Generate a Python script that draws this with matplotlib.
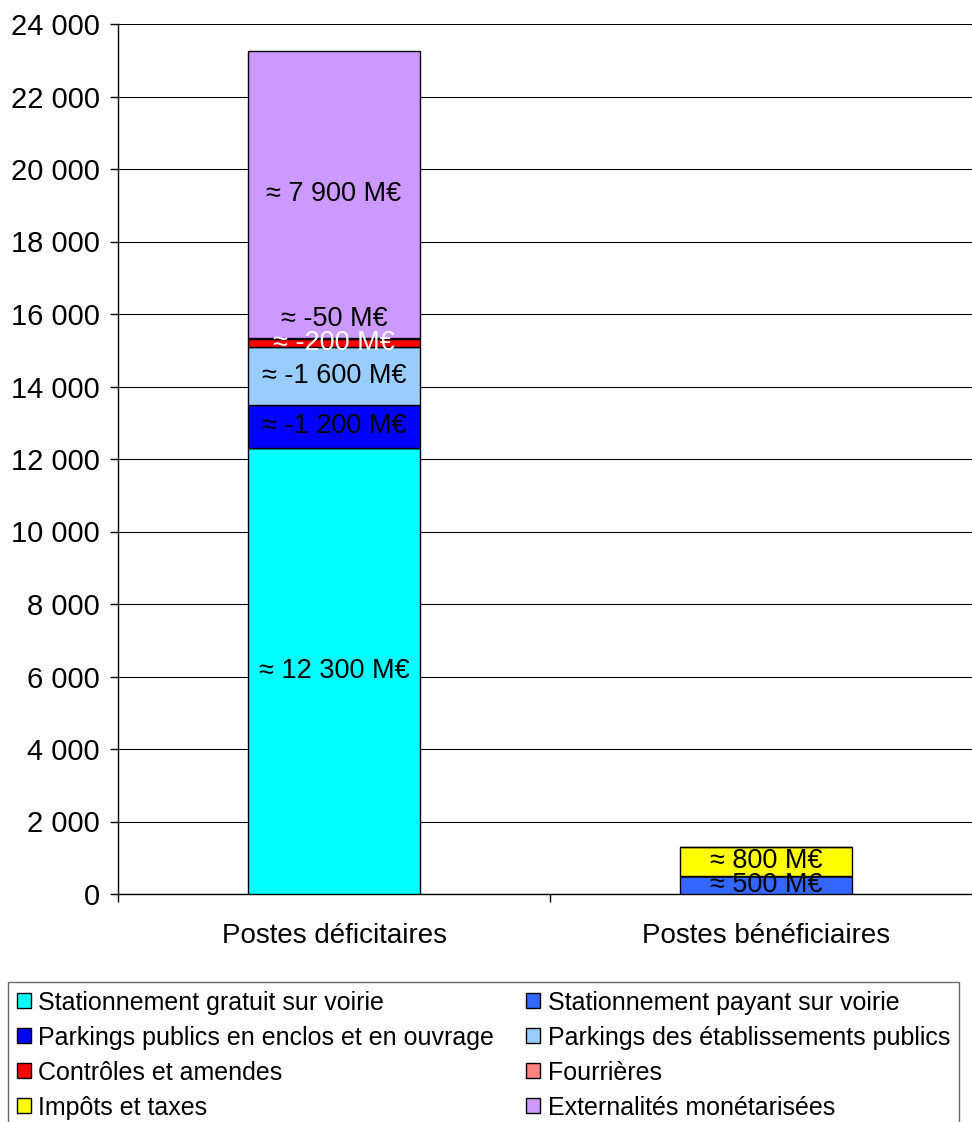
import matplotlib.pyplot as plt
import numpy as np
from matplotlib.patches import Patch
from matplotlib.ticker import FuncFormatter

plt.rcParams['font.family'] = ['Liberation Sans', 'DejaVu Sans']

categories = ['Postes déficitaires', 'Postes bénéficiaires']

# stacking order, bottom to top
series_names = ['Stationnement gratuit sur voirie', 'Stationnement payant sur voirie',
                'Parkings publics en enclos et en ouvrage', 'Parkings des établissements publics',
                'Contrôles et amendes', 'Fourrières', 'Impôts et taxes', 'Externalités monétarisées']
series_colors = ['#00FFFF', '#3366FF', '#0000FF', '#99CCFF', '#FF0000', '#FF8080', '#FFFF00', '#CC99FF']
series_values = [
    [12300, 0],
    [0, 500],
    [1200, 0],
    [1600, 0],
    [200, 0],
    [50, 0],
    [0, 800],
    [7900, 0],
]
series_labels = [
    ['≈ 12 300 M€', None],
    [None, '≈ 500 M€'],
    ['≈ -1 200 M€', None],
    ['≈ -1 600 M€', None],
    ['≈ -200 M€', None],
    ['≈ -50 M€', None],
    [None, '≈ 800 M€'],
    ['≈ 7 900 M€', None],
]
label_colors = ['black', 'black', 'black', 'black', 'white', 'black', 'black', 'black']
label_offsets = [0, 0, 0, 0, 0, 14, 0, 0]  # points, to keep tiny segments readable

fig = plt.figure(figsize=(9.72, 11.22), dpi=100)
ax = fig.add_axes([118 / 972, 1 - 894 / 1122, 864 / 972, 870 / 1122])

x = np.arange(len(categories))
bottom = np.zeros(len(categories))
for name, color, vals, labs, lc, off in zip(series_names, series_colors, series_values,
                                              series_labels, label_colors, label_offsets):
    vals = np.array(vals, dtype=float)
    ax.bar(x, vals, width=0.4, bottom=bottom, color=color, edgecolor='black', linewidth=1, zorder=3)
    for xi, v, b, lab in zip(x, vals, bottom, labs):
        if lab:
            ax.annotate(lab, (xi, b + v / 2), xytext=(0, off), textcoords='offset points',
                        ha='center', va='center', fontsize=19.5, color=lc, zorder=4)
    bottom += vals

ax.set_xlim(-0.5, 1.5)
ax.set_ylim(0, 24000)
ax.set_yticks(np.arange(0, 24001, 2000))
ax.yaxis.set_major_formatter(FuncFormatter(lambda v, p: f'{int(v):,}'.replace(',', ' ')))
ax.yaxis.grid(True, color='black', linewidth=0.8, zorder=0)
ax.tick_params(axis='y', labelsize=21, length=6, width=1, direction='out', pad=7)

ax.set_xticks([-0.5, 0.5, 1.5])
ax.set_xticklabels([])
ax.set_xticks(x, minor=True)
ax.set_xticklabels(categories, minor=True)
ax.tick_params(axis='x', which='major', length=6, width=1)
ax.tick_params(axis='x', which='minor', length=0, labelsize=20, pad=21)

for s in ['top', 'right']:
    ax.spines[s].set_visible(False)
ax.spines['left'].set_linewidth(1)
ax.spines['bottom'].set_linewidth(1)

handles = {n: Patch(facecolor=c, edgecolor='black', linewidth=1) for n, c in zip(series_names, series_colors)}
order = ['Stationnement gratuit sur voirie', 'Parkings publics en enclos et en ouvrage',
         'Contrôles et amendes', 'Impôts et taxes',
         'Stationnement payant sur voirie', 'Parkings des établissements publics',
         'Fourrières', 'Externalités monétarisées']
leg = fig.legend([handles[n] for n in order], order, ncol=2, loc='upper left',
                 bbox_to_anchor=(8 / 972, 1 - 982 / 1122),
                 fontsize=18, frameon=True, fancybox=False, edgecolor='#444444',
                 handlelength=0.55, handleheight=0.55, handletextpad=0.3,
                 columnspacing=1.3, labelspacing=0.44, borderaxespad=0, borderpad=0.35)
leg.get_frame().set_linewidth(1)

fig.savefig('out.png', dpi=100)
